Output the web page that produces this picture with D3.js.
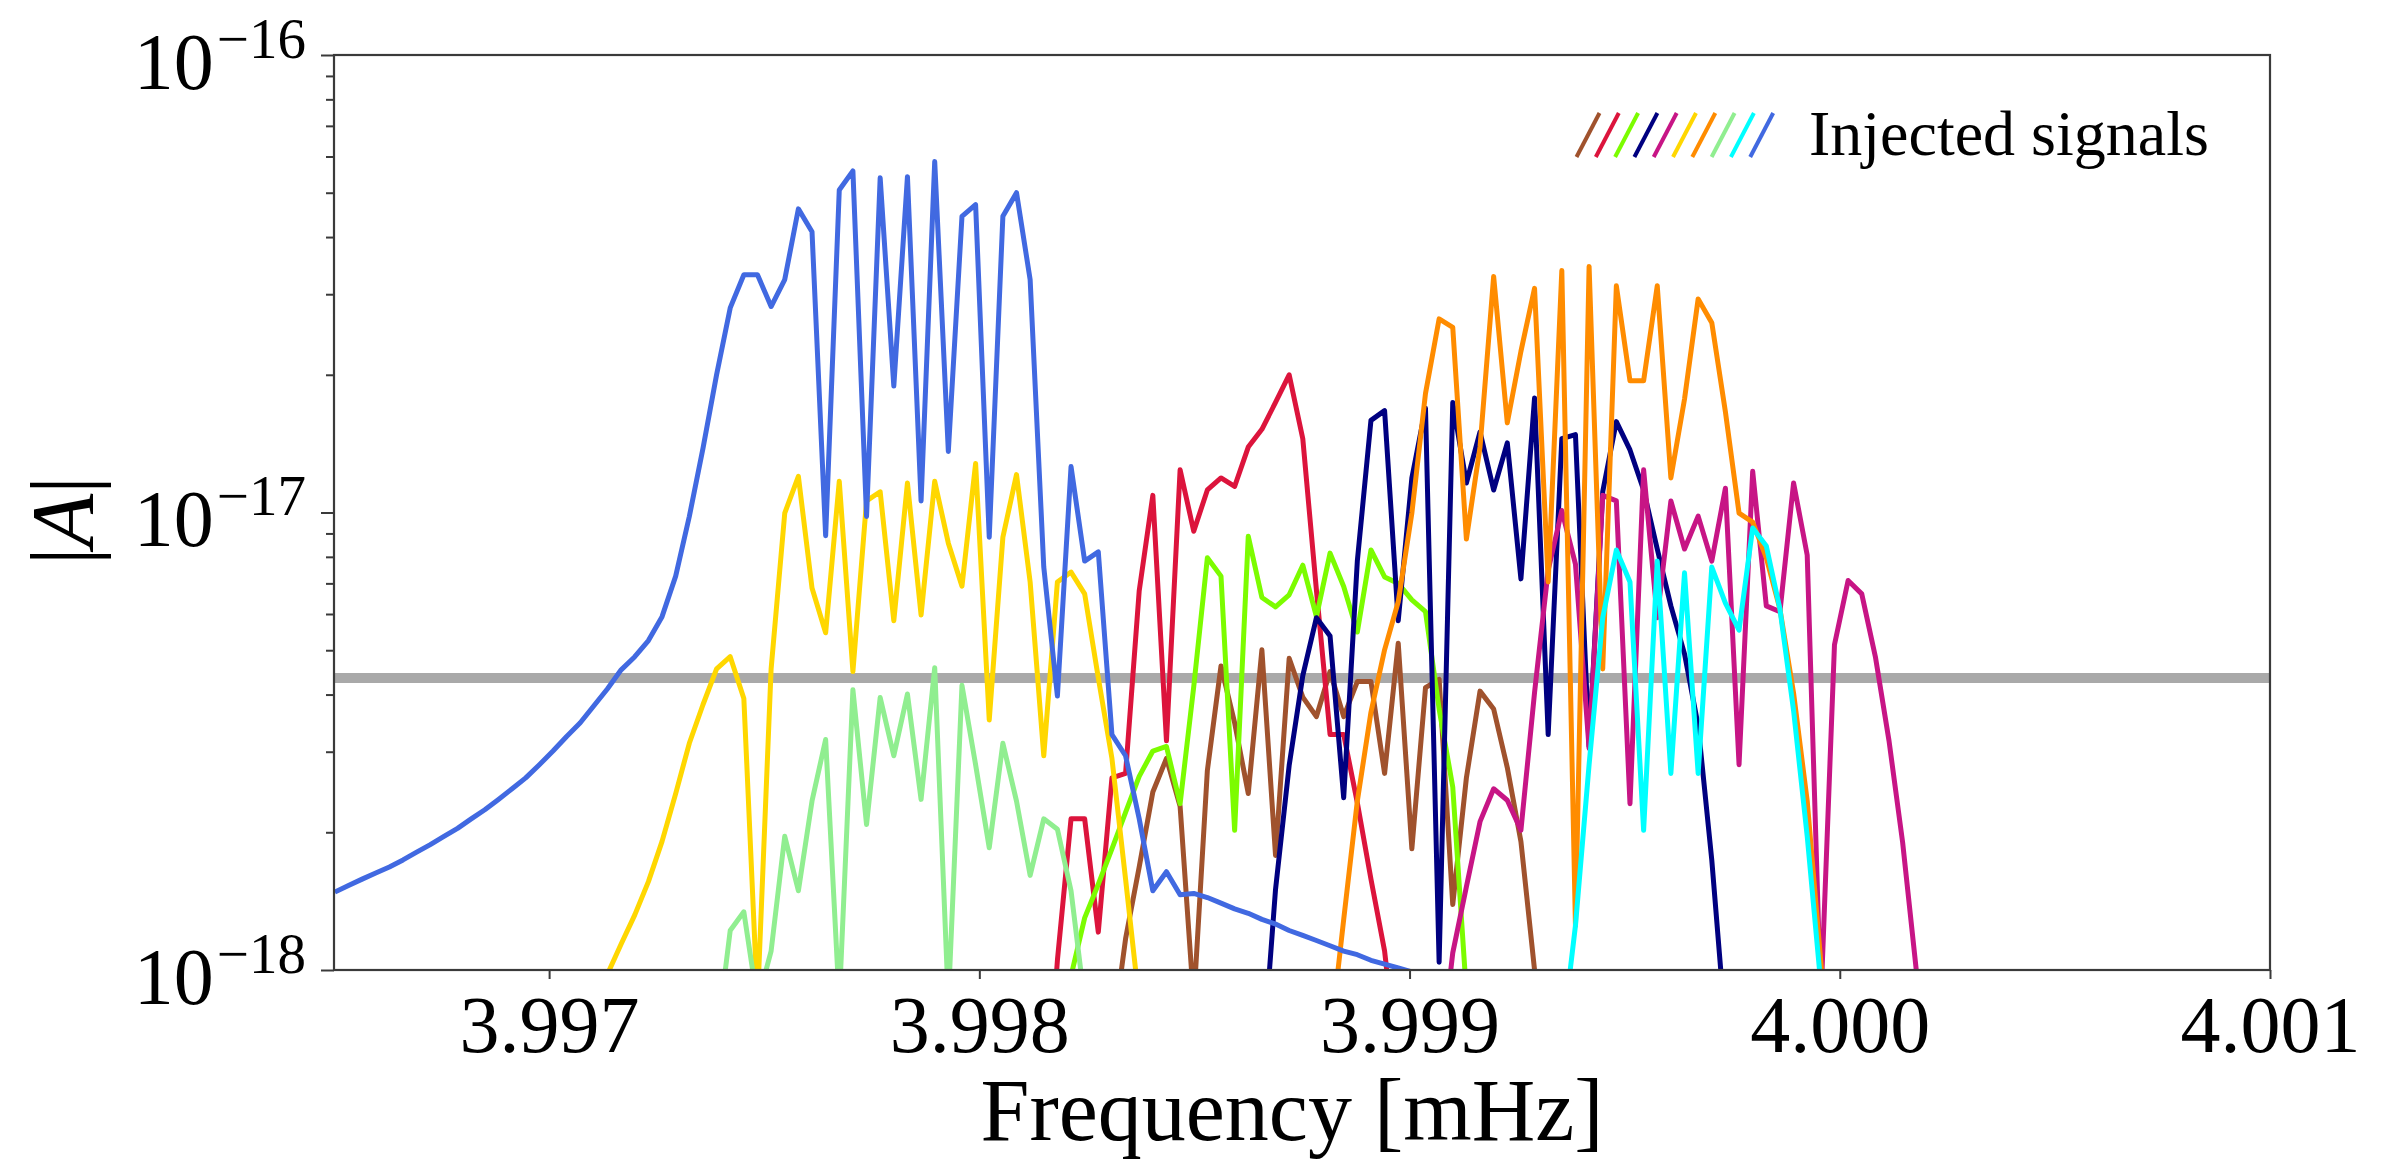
<!DOCTYPE html>
<html><head><meta charset="utf-8">
<script src="https://cdn.jsdelivr.net/npm/d3@7"></script>
<style>
html,body{margin:0;padding:0;background:#fff;}
svg{display:block;}
text{font-family:"Liberation Serif","DejaVu Serif",serif;fill:#000;}
</style></head><body>
<svg id="chart" width="2383" height="1164"></svg>
<script>
// ---- frequency grid (FFT bins, 1/yr resolution) ----
const f0 = 3.996502;      // mHz, frequency of bin 0
const df = 3.1688e-5;     // mHz, bin width
// ---- axis ticks ----
const xTicks = [3.997, 3.998, 3.999, 4.000, 4.001];
const xTickLabels = ["3.997", "3.998", "3.999", "4.000", "4.001"];
const yMajorTicks = [1e-18, 1e-17, 1e-16];
const yTickExponents = ["\u221218", "\u221217", "\u221216"];
const yMinorTicks = [2e-18,3e-18,4e-18,5e-18,6e-18,7e-18,8e-18,9e-18,2e-17,3e-17,4e-17,5e-17,6e-17,7e-17,8e-17,9e-17];
const xLabel = "Frequency [mHz]";
const legendLabel = "Injected signals";
const noiseLevel = 4.35e-18;
// ---- series ----
const seriesNames  = ["sienna","crimson","lawngreen","navy","mediumvioletred","gold","darkorange","lightgreen","cyan","royalblue"];
const seriesColors = ["#a0522d","#dc143c","#7cfc00","#000080","#c71585","#ffd700","#ff8c00","#90ee90","#00ffff","#4169e1"];
const seriesStartBin = [57, 52, 53, 68, 81, 19, 73, 28, 90, 0];

const siennaAmp = [0.7e-18,1.17e-18,1.68e-18,2.45e-18,2.90e-18,2.28e-18,0.85e-18,2.73e-18,4.62e-18,3.47e-18,
  2.43e-18,5.01e-18,1.78e-18,4.80e-18,3.95e-18,3.58e-18,4.49e-18,3.58e-18,4.27e-18,4.27e-18,
  2.69e-18,5.18e-18,1.84e-18,4.14e-18,4.32e-18,1.39e-18,2.63e-18,4.07e-18,3.72e-18,2.77e-18,
  1.91e-18,1.0e-18,0.5e-18];
const crimsonAmp = [0.4e-18,1.05e-18,2.14e-18,2.14e-18,1.21e-18,2.63e-18,2.69e-18,6.74e-18,1.09e-17,3.17e-18,
  1.24e-17,9.10e-18,1.12e-17,1.19e-17,1.14e-17,1.39e-17,1.52e-17,1.74e-17,2.0e-17,1.45e-17,
  6.76e-18,3.27e-18,3.27e-18,2.32e-18,1.58e-18,1.10e-18,0.6e-18];
const lawngreenAmp = [0.5e-18,0.97e-18,1.30e-18,1.54e-18,1.84e-18,2.21e-18,2.65e-18,3.01e-18,3.08e-18,2.31e-18,
  4.16e-18,7.96e-18,7.26e-18,2.02e-18,8.87e-18,6.52e-18,6.22e-18,6.61e-18,7.67e-18,5.92e-18,
  8.15e-18,6.89e-18,5.48e-18,8.28e-18,7.23e-18,7.0e-18,6.44e-18,6.07e-18,3.72e-18,2.51e-18,
  0.89e-18,0.5e-18];
const navyAmp = [0.6e-18,1.5e-18,2.8e-18,4.4e-18,5.89e-18,5.37e-18,2.38e-18,7.83e-18,1.59e-17,1.67e-17,
  5.80e-18,1.19e-17,1.69e-17,1.04e-18,1.74e-17,1.16e-17,1.50e-17,1.12e-17,1.42e-17,7.16e-18,
  1.78e-17,3.27e-18,1.45e-17,1.48e-17,3.08e-18,1.11e-17,1.58e-17,1.37e-17,1.12e-17,8.32e-18,
  6.25e-18,4.91e-18,3.42e-18,1.74e-18,0.75e-18,0.4e-18];
const violetAmp = [0.6e-18,1.09e-18,1.52e-18,2.11e-18,2.49e-18,2.35e-18,2.02e-18,4.04e-18,7.48e-18,1.01e-17,
  7.71e-18,3.05e-18,1.09e-17,1.06e-17,2.31e-18,1.24e-17,5.89e-18,1.06e-17,8.32e-18,9.82e-18,
  7.83e-18,1.13e-17,2.81e-18,1.23e-17,6.25e-18,6.07e-18,1.16e-17,8.07e-18,0.85e-18,5.14e-18,
  7.10e-18,6.64e-18,4.84e-18,3.17e-18,1.90e-18,1.0e-18,0.5e-18];
const goldAmp = [0.7e-18,0.98e-18,1.14e-18,1.32e-18,1.56e-18,1.91e-18,2.43e-18,3.13e-18,3.80e-18,4.55e-18,
  4.84e-18,3.92e-18,0.85e-18,4.55e-18,9.97e-18,1.20e-17,6.84e-18,5.46e-18,1.17e-17,4.49e-18,
  1.06e-17,1.11e-17,5.80e-18,1.16e-17,5.97e-18,1.17e-17,8.57e-18,6.90e-18,1.28e-17,3.52e-18,
  8.83e-18,1.21e-17,7.05e-18,2.94e-18,7.05e-18,7.41e-18,6.64e-18,4.35e-18,2.90e-18,1.58e-18,
  0.85e-18,0.5e-18];
const orangeAmp = [0.7e-18,1.29e-18,2.34e-18,3.66e-18,5.01e-18,6.38e-18,9.97e-18,1.82e-17,2.65e-17,2.54e-17,
  8.75e-18,1.39e-17,3.28e-17,1.57e-17,2.25e-17,3.09e-17,7.05e-18,3.38e-17,1.25e-18,3.45e-17,
  4.55e-18,3.13e-17,1.94e-17,1.94e-17,3.13e-17,1.19e-17,1.77e-17,2.93e-17,2.60e-17,1.66e-17,
  9.97e-18,9.53e-18,7.96e-18,6.15e-18,4.03e-18,2.34e-18,1.04e-18,0.5e-18];
const lightgreenAmp = [0.7e-18,1.22e-18,1.34e-18,0.85e-18,1.10e-18,1.96e-18,1.49e-18,2.34e-18,3.19e-18,0.85e-18,
  4.10e-18,2.08e-18,3.94e-18,2.94e-18,4.01e-18,2.36e-18,4.58e-18,0.85e-18,4.19e-18,2.81e-18,
  1.85e-18,3.13e-18,2.34e-18,1.61e-18,2.14e-18,2.03e-18,1.49e-18,0.85e-18];
const cyanAmp = [0.7e-18,1.25e-18,2.81e-18,5.89e-18,8.28e-18,7.05e-18,2.02e-18,7.83e-18,2.69e-18,7.38e-18,
  2.69e-18,7.60e-18,6.34e-18,5.53e-18,9.25e-18,8.45e-18,6.15e-18,3.69e-18,1.96e-18,0.93e-18,0.5e-18];
const royalblueAmp = [1.48e-18,1.53e-18,1.58e-18,1.63e-18,1.68e-18,1.74e-18,1.81e-18,1.88e-18,1.96e-18,2.04e-18,
  2.14e-18,2.24e-18,2.36e-18,2.49e-18,2.63e-18,2.81e-18,3.01e-18,3.24e-18,3.47e-18,3.78e-18,
  4.12e-18,4.53e-18,4.84e-18,5.25e-18,5.92e-18,7.26e-18,9.8e-18,1.38e-17,2.0e-17,2.8e-17,
  3.31e-17,3.31e-17,2.82e-17,3.23e-17,4.61e-17,4.11e-17,8.9e-18,5.07e-17,5.58e-17,9.8e-18,
  5.39e-17,1.89e-17,5.42e-17,1.06e-17,5.85e-17,1.36e-17,4.44e-17,4.71e-17,8.83e-18,4.44e-17,
  5.0e-17,3.23e-17,7.6e-18,3.97e-18,1.26e-17,7.83e-18,8.2e-18,3.27e-18,2.94e-18,2.14e-18,
  1.49e-18,1.64e-18,1.46e-18,1.47e-18,1.44e-18,1.40e-18,1.36e-18,1.33e-18,1.29e-18,1.26e-18,
  1.22e-18,1.19e-18,1.16e-18,1.13e-18,1.10e-18,1.08e-18,1.05e-18,1.03e-18,1.01e-18,0.99e-18,0.97e-18];

const seriesValues = [siennaAmp, crimsonAmp, lawngreenAmp, navyAmp, violetAmp, goldAmp, orangeAmp, lightgreenAmp, cyanAmp, royalblueAmp];

// ---- layout ----
const plot = {left: 334, right: 2270, top: 55, bottom: 970};
const svg = d3.select("#chart");

const x = d3.scaleLinear().domain([3.9965, 4.001]).range([plot.left, plot.right]);
const y = d3.scaleLog().domain([1e-18, 1e-16]).range([plot.bottom, plot.top]);

svg.append("defs").append("clipPath").attr("id", "clip")
  .append("rect").attr("x", plot.left).attr("y", plot.top)
  .attr("width", plot.right - plot.left).attr("height", plot.bottom - plot.top);

const g = svg.append("g").attr("clip-path", "url(#clip)");

// noise level
g.append("line")
  .attr("x1", plot.left).attr("x2", plot.right)
  .attr("y1", y(noiseLevel)).attr("y2", y(noiseLevel))
  .attr("stroke", "#a9a9a9").attr("stroke-width", 10);

const line = d3.line()
  .x(d => x(d.f))
  .y(d => y(d.a));

seriesValues.forEach((vals, k) => {
  const pts = vals.map((a, i) => ({f: f0 + (seriesStartBin[k] + i) * df, a: a}));
  g.append("path")
    .datum(pts)
    .attr("d", line)
    .attr("fill", "none")
    .attr("stroke", seriesColors[k])
    .attr("stroke-width", 5)
    .attr("stroke-linejoin", "round")
    .attr("stroke-linecap", "butt");
});

// ---- axes ----
const axisColor = "#3a3a3a";
const xAxis = d3.axisBottom(x).tickValues(xTicks)
  .tickFormat((d, i) => xTickLabels[i]).tickSize(9).tickPadding(0);
const gx = svg.append("g").attr("transform", `translate(0,${plot.bottom})`).call(xAxis);
gx.select(".domain").remove();
gx.selectAll(".tick line").attr("stroke", axisColor).attr("stroke-width", 2);
gx.selectAll(".tick text").attr("font-size", 80).attr("y", 82).attr("dy", null)
  .style("font-family", '"Liberation Serif", serif').attr("fill", "#000");

const yAxisMinor = d3.axisLeft(y).tickValues(yMinorTicks).tickFormat("").tickSize(8);
const gym = svg.append("g").attr("transform", `translate(${plot.left},0)`).call(yAxisMinor);
gym.select(".domain").remove();
gym.selectAll(".tick line").attr("stroke", axisColor).attr("stroke-width", 2);

const yAxisMajor = d3.axisLeft(y).tickValues(yMajorTicks).tickFormat("").tickSize(13);
const gy = svg.append("g").attr("transform", `translate(${plot.left},0)`).call(yAxisMajor);
gy.select(".domain").remove();
gy.selectAll(".tick line").attr("stroke", axisColor).attr("stroke-width", 2);
gy.selectAll(".tick").each(function(d, i) {
  const t = d3.select(this).append("text")
    .attr("x", -28).attr("y", 33)
    .attr("text-anchor", "end")
    .attr("font-size", 80)
    .attr("fill", "#000")
    .style("font-family", '"Liberation Serif", serif');
  t.append("tspan").text("10");
  t.append("tspan").attr("dy", -31).attr("dx", 3).attr("font-size", 57).text(yTickExponents[i]);
});

// frame
svg.append("rect")
  .attr("x", plot.left).attr("y", plot.top)
  .attr("width", plot.right - plot.left).attr("height", plot.bottom - plot.top)
  .attr("fill", "none").attr("stroke", axisColor).attr("stroke-width", 2.2);

// axis labels
svg.append("text")
  .attr("x", (plot.left + plot.right) / 2 - 10).attr("y", 1140)
  .attr("text-anchor", "middle").attr("font-size", 88)
  .text(xLabel);

const yl = svg.append("text")
  .attr("transform", `translate(92,${(plot.top + plot.bottom) / 2 + 8}) rotate(-90)`)
  .attr("text-anchor", "middle").attr("font-size", 88);
yl.append("tspan").text("|");
yl.append("tspan").attr("font-style", "italic").text("A");
yl.append("tspan").text("|");

// legend
const legendSlash = svg.append("g");
seriesColors.forEach((c, i) => {
  const x0 = 1576.5 + 19.3 * i;
  legendSlash.append("line")
    .attr("x1", x0).attr("y1", 157).attr("x2", x0 + 23).attr("y2", 113)
    .attr("stroke", c).attr("stroke-width", 4);
});
svg.append("text").attr("x", 1809).attr("y", 155).attr("font-size", 64).text(legendLabel);
</script>
</body></html>
